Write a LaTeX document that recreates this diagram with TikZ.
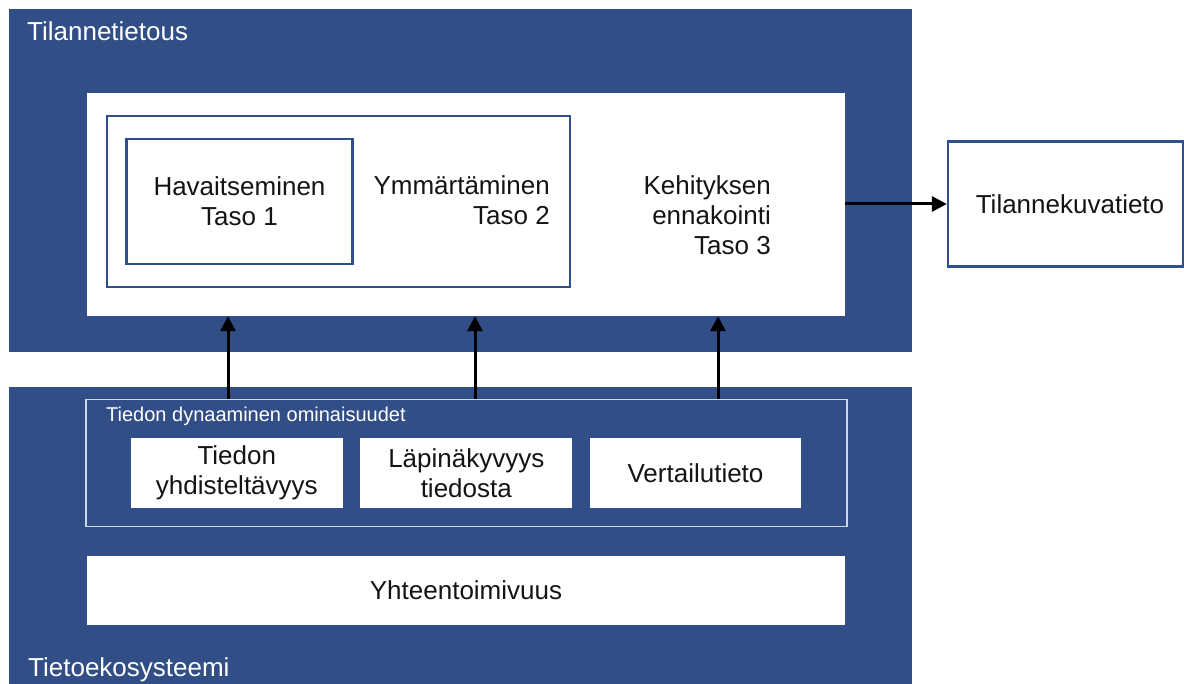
\documentclass[tikz,border=0pt]{standalone}
\usepackage{fontspec}
\setmainfont{Liberation Sans}
\usetikzlibrary{arrows.meta}
\definecolor{panelblue}{RGB}{49,78,134}
\definecolor{edgeblue}{RGB}{47,80,140}
\definecolor{paleline}{RGB}{205,215,232}
\definecolor{inktext}{RGB}{20,20,20}
\begin{document}
\begin{tikzpicture}[x=1pt,y=-1pt,
  bodyfont/.style={font=\fontsize{26}{30}\selectfont},
  panel/.style={rectangle, fill=panelblue, draw=none, inner sep=0pt},
  whitebox/.style={rectangle, fill=white, draw=none, inner sep=0pt, text=inktext, align=center, bodyfont},
  framed/.style={rectangle, fill=white, draw=edgeblue, line width=2.3pt, inner sep=0pt, text=inktext, align=center, bodyfont},
  plaintext/.style={inner sep=0pt, text=inktext, bodyfont},
  caption/.style={inner sep=0pt, text=white, bodyfont},
  arr/.style={draw=black, line width=3pt, -{Triangle[length=15pt,width=15pt]}}]

\useasboundingbox[fill=white] (0,0) rectangle (1184,684);

% upper panel: situational awareness levels
\node[panel, minimum width=903pt, minimum height=343pt] (sa) at (460.5,180.5) {};
\node[caption, anchor=base west] (satitle) at (27,41) {Tilannetietous};
\node[whitebox, minimum width=758pt, minimum height=223pt] (saw) at (466,204.5) {};
\node[framed, minimum width=463pt, minimum height=171pt] (lv) at (338.5,201.5) {};
\node[framed, minimum width=226pt, minimum height=125pt] (l1) at (239.5,201.5) {Havaitseminen\\Taso 1};
\node[plaintext, anchor=north east, align=right] (l2) at (550,175) {Ymmärtäminen\\Taso 2};
\node[plaintext, anchor=north east, align=right] (l3) at (771,175) {Kehityksen\\ennakointi\\Taso 3};

% output box
\node[framed, minimum width=235pt, minimum height=125pt] (tk) at (1065.5,204) {\hspace*{9pt}Tilannekuvatieto};
\draw[arr] (saw.east |- tk.west) -- (tk.west);

% lower panel: information ecosystem
\node[panel, minimum width=903pt, minimum height=297pt] (eco) at (460.5,535.5) {};
\node[caption, anchor=base west] (ecotitle) at (28,676) {Tietoekosysteemi};
\node[rectangle, draw=paleline, line width=1.5pt, minimum width=761pt, minimum height=127pt] (dyn) at (466.5,463) {};
\node[caption, anchor=base west, font=\fontsize{20}{24}\selectfont] (dyntitle) at (106,422) {Tiedon dynaaminen ominaisuudet};
\node[whitebox, minimum width=212pt, minimum height=70pt] (p1) at (236.8,473) {Tiedon\\yhdisteltävyys};
\node[whitebox, minimum width=212pt, minimum height=70pt] (p2) at (466.3,473) {Läpinäkyvyys\\tiedosta};
\node[whitebox, minimum width=211pt, minimum height=70pt] (p3) at (695.5,473) {Vertailutieto};
\node[whitebox, minimum width=758pt, minimum height=69pt] (io) at (466,590.5) {Yhteentoimivuus};

% upward connectors
\coordinate (c1) at (228,0);
\coordinate (c2) at (475,0);
\coordinate (c3) at (718,0);
\draw[arr] (dyn.north -| c1) -- (saw.south -| c1);
\draw[arr] (dyn.north -| c2) -- (saw.south -| c2);
\draw[arr] (dyn.north -| c3) -- (saw.south -| c3);
\end{tikzpicture}
\end{document}
